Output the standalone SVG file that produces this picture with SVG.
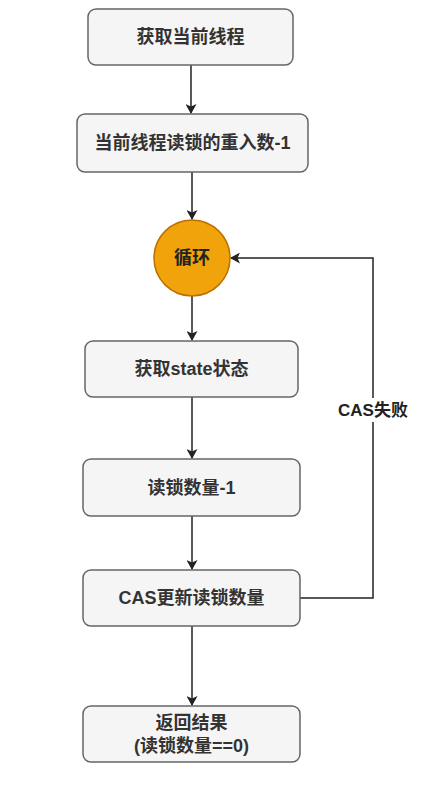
<svg xmlns="http://www.w3.org/2000/svg" width="444" height="785" viewBox="0 0 444 785">
<style>
.box{fill:#f5f5f5;stroke:#666;stroke-width:1.5}
.t{font-family:"Liberation Sans","Noto Sans CJK SC",sans-serif;font-size:18px;font-weight:bold;fill:#333;text-anchor:middle;dominant-baseline:central}
.c{fill:none;stroke:#222;stroke-width:1.5}
</style>
<defs>
<marker id="ah" markerWidth="10" markerHeight="11" refX="9" refY="5.5" orient="auto" markerUnits="userSpaceOnUse">
<path d="M0,0 L10,5.5 L0,11 L2.5,5.5 Z" fill="#222"/>
</marker>
</defs>
<rect width="444" height="785" fill="#fff"/>
<g id="connectors">
<line class="c" x1="191" y1="65" x2="191" y2="113" marker-end="url(#ah)"/>
<line class="c" x1="192" y1="172" x2="192" y2="219" marker-end="url(#ah)"/>
<line class="c" x1="192" y1="296" x2="192" y2="340" marker-end="url(#ah)"/>
<line class="c" x1="192" y1="397" x2="192" y2="458" marker-end="url(#ah)"/>
<line class="c" x1="192" y1="516" x2="192" y2="569" marker-end="url(#ah)"/>
<line class="c" x1="192" y1="626" x2="192" y2="705" marker-end="url(#ah)"/>
<polyline class="c" points="300,598 373,598 373,258 231,258" marker-end="url(#ah)"/>
<rect x="334" y="398" width="78" height="24" fill="#fff"/>
<text class="t" x="373" y="410" style="font-size:17px;fill:#222">CAS失败</text>
</g>
<g id="n1"><rect class="box" x="88" y="9" width="205" height="56" rx="8"/><text class="t" x="190.5" y="37">获取当前线程</text></g>
<g id="n2"><rect class="box" x="77" y="114" width="231" height="58" rx="8"/><text class="t" x="192.5" y="143">当前线程读锁的重入数-1</text></g>
<g id="n3"><circle cx="192" cy="258" r="38" fill="#f0a30a" stroke="#bd7000" stroke-width="1.5"/><text class="t" x="192" y="258" style="fill:#222">循环</text></g>
<g id="n4"><rect class="box" x="85" y="341" width="213" height="56" rx="8"/><text class="t" x="191.5" y="369">获取state状态</text></g>
<g id="n5"><rect class="box" x="83" y="459" width="217" height="57" rx="8"/><text class="t" x="191.5" y="487.5">读锁数量-1</text></g>
<g id="n6"><rect class="box" x="83" y="570" width="217" height="56" rx="8"/><text class="t" x="191.5" y="598">CAS更新读锁数量</text></g>
<g id="n7"><rect class="box" x="83" y="706" width="217" height="56" rx="8"/><text class="t" x="191.5" y="723">返回结果</text><text class="t" x="191.5" y="746">(读锁数量==0)</text></g>
</svg>
